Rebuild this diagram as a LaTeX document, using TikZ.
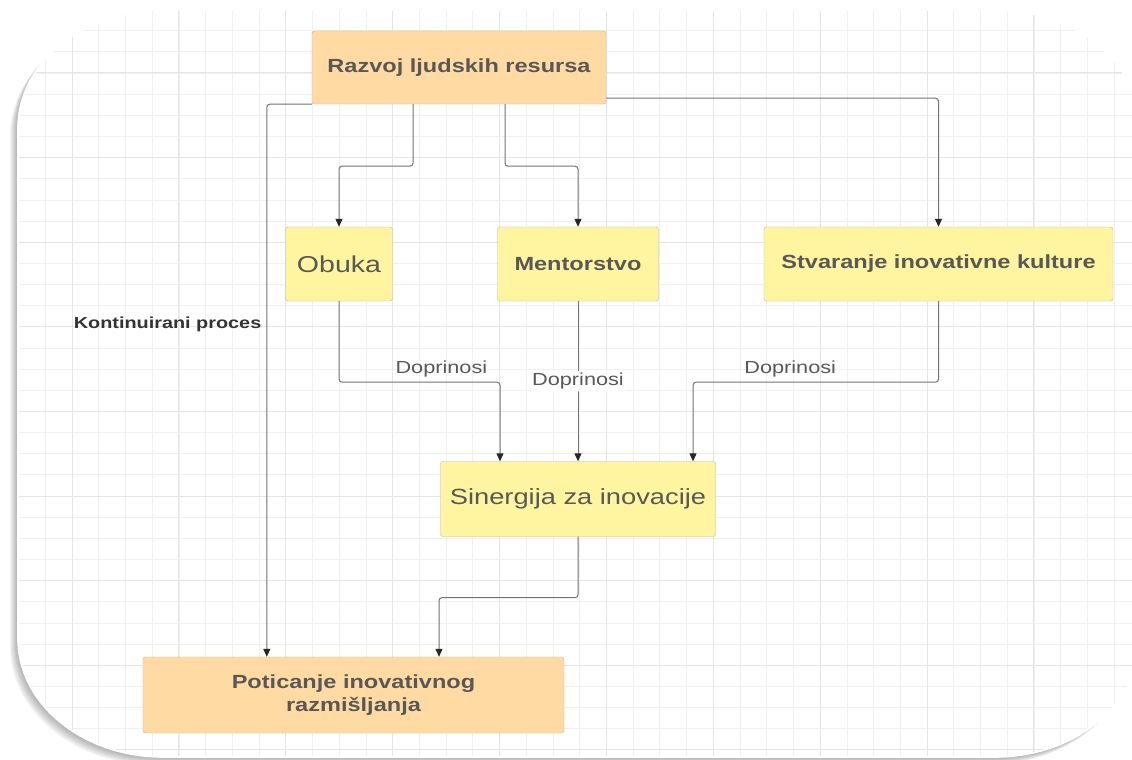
\documentclass[tikz,border=0pt]{standalone}
\usepackage{fontspec}
\setmainfont{Liberation Sans}[FakeStretch=1.24]
\usetikzlibrary{arrows.meta}

\definecolor{hrorange}{RGB}{255,219,163}
\definecolor{ideayellow}{RGB}{255,245,160}
\definecolor{boxline}{RGB}{192,182,150}
\definecolor{boxtext}{RGB}{88,88,88}
\definecolor{connline}{RGB}{115,115,115}

\begin{document}
\begin{tikzpicture}[x=1pt, y=-1pt,
        sheetpath/.style = {insert path={(163,10) -- (995,10) arc [start angle=-90, end angle=0, x radius=145, y radius=118]
            -- (1140,639) arc [start angle=0, end angle=90, x radius=145, y radius=118]
            -- (163,757) arc [start angle=90, end angle=180, x radius=145, y radius=118]
            -- (18,128) arc [start angle=180, end angle=270, x radius=145, y radius=118] -- cycle}},
        gridminor/.style = {line width=0.8pt, black!6},
        gridmajor/.style = {line width=1pt, black!10},
        hrbox/.style = {shape = rectangle, rounded corners=2.5pt, draw = boxline, fill = hrorange,
            text = boxtext, inner sep=0pt, font=\fontsize{19pt}{23pt}\selectfont\bfseries},
        ideabox/.style = {hrbox, fill = ideayellow},
        conn/.style = {draw = connline, line width=1pt, rounded corners=3pt,
            -{Triangle[length=8pt, width=7pt, color=black!85]}},
        lbl/.style = {text = boxtext, inner sep=2pt, font=\fontsize{17.5pt}{20pt}\selectfont},
        kont/.style = {text = black!80, inner sep=2pt, font=\fontsize{16pt}{19pt}\selectfont\bfseries}]
    \useasboundingbox (0,0) rectangle (1132,760);

    % soft shadow, then the rounded sheet with the grid
    \foreach \k in {1,...,8} {\fill [black, opacity=0.045, shift={(-\k,\k)}, sheetpath];}
    \path [fill = white, draw = white, line width=1.6pt,
        path picture = {
            \foreach \i in {0,...,42} {\draw [gridminor] ({18.6+26.72*\i}, 0) -- ++(0, 770);}
            \foreach \j in {0,...,36} {\draw [gridminor] (0, {9.55+21.15*\j}) -- ++(1150, 0);}
            \foreach \i in {2,6,...,42} {\draw [gridmajor] ({18.6+26.72*\i}, 0) -- ++(0, 770);}
            \foreach \j in {3,7,...,35} {\draw [gridmajor] (0, {9.55+21.15*\j}) -- ++(1150, 0);}
        }, sheetpath];

    \node [hrbox, minimum width=294pt, minimum height=73pt] (razvoj) at (459,67.5) {Razvoj ljudskih resursa};
    \node [ideabox, minimum width=107pt, minimum height=74pt, font=\fontsize{23pt}{27pt}\selectfont] (obuka) at (339,264) {Obuka};
    \node [ideabox, minimum width=161pt, minimum height=74pt] (mentor) at (578,264) {Mentorstvo};
    \node [ideabox, minimum width=349pt, minimum height=74pt] (kultura) at (938.5,264) {Stvaranje inovativne kulture};
    \node [ideabox, minimum width=275pt, minimum height=75pt, font=\fontsize{22pt}{26pt}\selectfont] (sinergija) at (578,499) {Sinergija za inovacije};
    \node [hrbox, minimum width=421pt, minimum height=76pt, align=center] (poticanje) at (353.5,695) {Poticanje inovativnog\\razmišljanja};

    \draw [conn] (razvoj.south west) -| ([xshift=124pt]poticanje.north west)
        node [kont, pos=0.699, left=3pt] {Kontinuirani proces};
    \draw [conn] ([xshift=-46pt]razvoj.south) -- ++(0,62) -| (obuka.north);
    \draw [conn] ([xshift=46pt]razvoj.south) -- ++(0,62) -| (mentor.north);
    \draw [conn] ([yshift=6pt]razvoj.south east) -| (kultura.north);

    \draw [conn] (obuka.south) -- ++(0,81) -| ([xshift=-78pt]sinergija.north)
        node [lbl, pos=0.318, above=3pt] {Doprinosi};
    \draw [conn] (mentor.south) -- (sinergija.north)
        node [lbl, midway, fill = white] {Doprinosi};
    \draw [conn] (kultura.south) -- ++(0,81) -| ([xshift=115pt]sinergija.north)
        node [lbl, pos=0.302, above=3pt] {Doprinosi};

    \draw [conn] (sinergija.south) -- ++(0,61) -| ([xshift=85.5pt]poticanje.north);
\end{tikzpicture}
\end{document}
